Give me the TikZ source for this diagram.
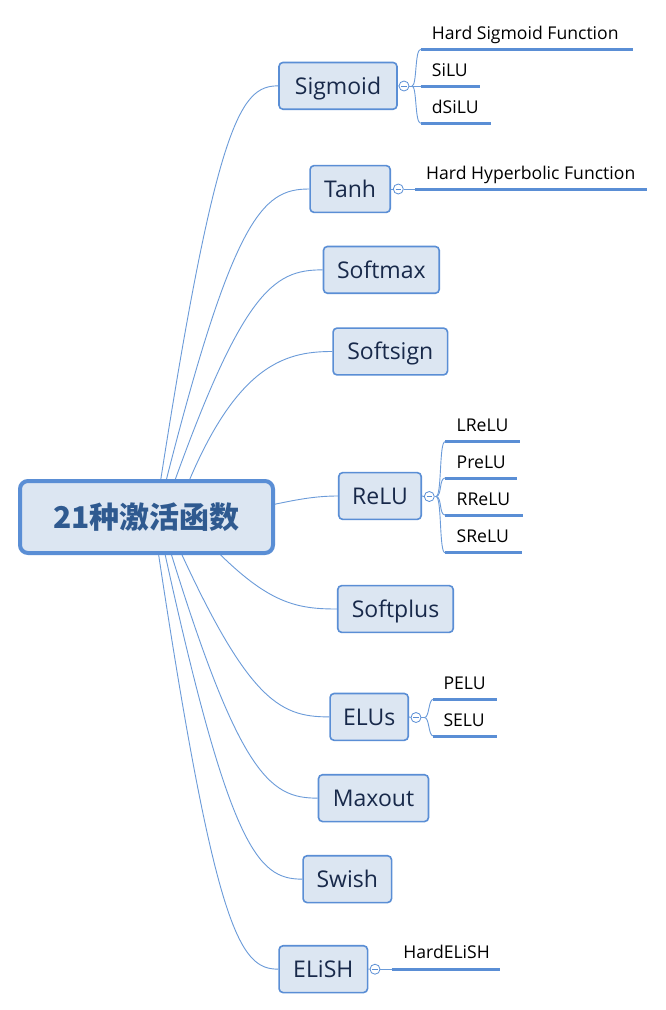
\documentclass[tikz,border=0pt]{standalone}
\usepackage{fontspec}
\setmainfont{Open Sans}
\newfontfamily\cjk{Noto Sans CJK SC}
\usetikzlibrary{calc}
\definecolor{bfill}{HTML}{DCE6F2}
\definecolor{bdraw}{HTML}{5A8ED5}
\definecolor{edgec}{HTML}{6B9BD9}
\definecolor{rtext}{HTML}{2F5A90}
\definecolor{ntext}{HTML}{18294A}
\begin{document}
\begin{tikzpicture}[x=1pt,y=-1pt,
  edge/.style={draw=edgec, line width=0.9pt},
  uline/.style={draw=bdraw, line width=3pt},
  rootbox/.style={draw=bdraw, fill=bfill, line width=4pt, rounded corners=8pt, inner sep=0pt,
    minimum width=253pt, minimum height=72pt, text=rtext, font=\cjk\bfseries\fontsize{30}{34}\selectfont},
  child/.style={draw=bdraw, fill=bfill, line width=1.6pt, rounded corners=4pt, inner sep=0pt,
    minimum height=46.8pt, text height=16.4pt, text depth=0pt, text=ntext, font=\fontsize{23}{27}\selectfont},
  subtxt/.style={inner sep=0pt, anchor=base west, text=black, font=\fontsize{17.6}{20}\selectfont},
  tog/.style={circle, draw=bdraw, fill=white, line width=0.8pt, minimum size=10pt, inner sep=0pt,
    path picture={\draw[bdraw, line width=0.8pt] ([xshift=-2.8pt]path picture bounding box.center) -- ([xshift=2.8pt]path picture bounding box.center);}}
]
\useasboundingbox (0,0) rectangle (665,1010);
\fill[white] (0,0) rectangle (665,1010);

% child nodes
\node[child, minimum width=118pt]   (sig)  at (338,85.85)   {Sigmoid};
\node[child, minimum width=80.2pt]  (tanh) at (350.15,189)  {Tanh};
\node[child, minimum width=115.8pt] (smax) at (381.35,269.85) {Softmax};
\node[child, minimum width=114.5pt] (ssgn) at (390.3,351.5) {Softsign};
\node[child, minimum width=82.5pt]  (relu) at (380,496)     {ReLU};
\node[child, minimum width=115.5pt] (splus) at (395.5,609)  {Softplus};
\node[child, minimum width=78.2pt]  (elus) at (369.15,716.9) {ELUs};
\node[child, minimum width=110pt]   (maxo) at (373.5,798.15) {Maxout};
\node[child, minimum width=88.5pt]  (swish) at (347.3,879.15) {Swish};
\node[child, minimum width=88.5pt]  (elish) at (323.3,969.15) {ELiSH};

% root coordinate for edges
\coordinate (rc) at (146.5,517);

% main edges
\draw[edge] ([xshift=8.5pt]rc)  .. controls +(60.4,-396.5) and +(-38.2,0) .. (sig.west);
\draw[edge] ([xshift=10.5pt]rc) .. controls +(74.6,-301.8) and +(-47.2,0) .. (tanh.west);
\draw[edge] ([xshift=15.5pt]rc) .. controls +(78.7,-227.2) and +(-49.8,0) .. (smax.west);
\draw[edge] ([xshift=28.5pt]rc) .. controls +(55,-152.3) and +(-48.8,0) .. (ssgn.west);
\draw[edge] ([xshift=53.5pt]rc) .. controls +(67.9,-8) and +(-42.9,0) .. (relu.west);
\draw[edge] ([xshift=38.5pt]rc) .. controls +(74.5,84.6) and +(-47.1,0) .. (splus.west);
\draw[edge] ([xshift=18.5pt]rc) .. controls +(80.5,184) and +(-50.9,0) .. (elus.west);
\draw[edge] ([xshift=13.5pt]rc) .. controls +(77.3,258.5) and +(-48.9,0) .. (maxo.west);
\draw[edge] ([xshift=10.5pt]rc) .. controls +(71.2,333) and +(-45,0) .. (swish.west);
\draw[edge] ([xshift=6.5pt]rc)  .. controls +(61.4,415.8) and +(-38.8,0) .. (elish.west);

% root node on top
\node[rootbox] (root) at (rc) {21种激活函数};

% Sigmoid subtree
\node[tog] (sigc) at (404,86) {};
\draw[edge] (sig.east) -- (sigc.west);
\coordinate (sigb) at (412,86);
\draw[edge] (sigc.east) -- (sigb);
\coordinate (u11) at (420.7,49.3);
\coordinate (u12) at (420.7,86);
\coordinate (u13) at (420.7,123.3);
\draw[edge] (sigb) .. controls +(5,0) and +(-6,0) .. (u11);
\draw[edge] (sigb) -- (u12);
\draw[edge] (sigb) .. controls +(5,0) and +(-6,0) .. (u13);
\draw[uline] (u11) -- ++(212,0);
\draw[uline] (u12) -- ++(59.3,0);
\draw[uline] (u13) -- ++(70.3,0);
\node[subtxt] (t11) at ($(u11)+(11,-10)$) {Hard Sigmoid Function};
\node[subtxt] (t12) at ($(u12)+(11,-10)$) {SiLU};
\node[subtxt] (t13) at ($(u13)+(11,-10)$) {dSiLU};

% Tanh subtree
\node[tog] (tanhc) at (398.3,189) {};
\draw[edge] (tanh.east) -- (tanhc.west);
\coordinate (u21) at (415,189);
\draw[edge] (tanhc.east) -- (u21);
\draw[uline] (u21) -- ++(231.7,0);
\node[subtxt] (t21) at ($(u21)+(11,-10)$) {Hard Hyperbolic Function};

% ReLU subtree
\node[tog] (reluc) at (429.3,496.5) {};
\draw[edge] (relu.east) -- (reluc.west);
\coordinate (relub) at (436,496.5);
\draw[edge] (reluc.east) -- (relub);
\coordinate (u31) at (445,441.7);
\coordinate (u32) at (445,478);
\coordinate (u33) at (445,515);
\coordinate (u34) at (445,552.7);
\draw[edge] (relub) .. controls +(6,0) and +(-6,0) .. (u31);
\draw[edge] (relub) .. controls +(6,0) and +(-6,0) .. (u32);
\draw[edge] (relub) .. controls +(6,0) and +(-6,0) .. (u33);
\draw[edge] (relub) .. controls +(6,0) and +(-6,0) .. (u34);
\draw[uline] (u31) -- ++(75,0);
\draw[uline] (u32) -- ++(72,0);
\draw[uline] (u33) -- ++(78,0);
\draw[uline] (u34) -- ++(77,0);
\node[subtxt] (t31) at ($(u31)+(11.5,-10)$) {LReLU};
\node[subtxt] (t32) at ($(u32)+(11.5,-10)$) {PreLU};
\node[subtxt] (t33) at ($(u33)+(11.5,-10)$) {RReLU};
\node[subtxt] (t34) at ($(u34)+(11.5,-10)$) {SReLU};

% ELUs subtree
\node[tog] (elusc) at (416,717.5) {};
\draw[edge] (elus.east) -- (elusc.west);
\coordinate (elusb) at (424.5,717.5);
\draw[edge] (elusc.east) -- (elusb);
\coordinate (u41) at (433.3,699.3);
\coordinate (u42) at (433.3,736);
\draw[edge] (elusb) .. controls +(5,0) and +(-5,0) .. (u41);
\draw[edge] (elusb) .. controls +(5,0) and +(-5,0) .. (u42);
\draw[uline] (u41) -- ++(63.4,0);
\draw[uline] (u42) -- ++(63.4,0);
\node[subtxt] (t41) at ($(u41)+(10,-10)$) {PELU};
\node[subtxt] (t42) at ($(u42)+(10,-10)$) {SELU};

% ELiSH subtree
\node[tog] (elishc) at (375,969.2) {};
\draw[edge] (elish.east) -- (elishc.west);
\coordinate (u51) at (391.7,969.2);
\draw[edge] (elishc.east) -- (u51);
\draw[uline] (u51) -- ++(108.3,0);
\node[subtxt] (t51) at ($(u51)+(11.5,-11)$) {HardELiSH};
\end{tikzpicture}
\end{document}
